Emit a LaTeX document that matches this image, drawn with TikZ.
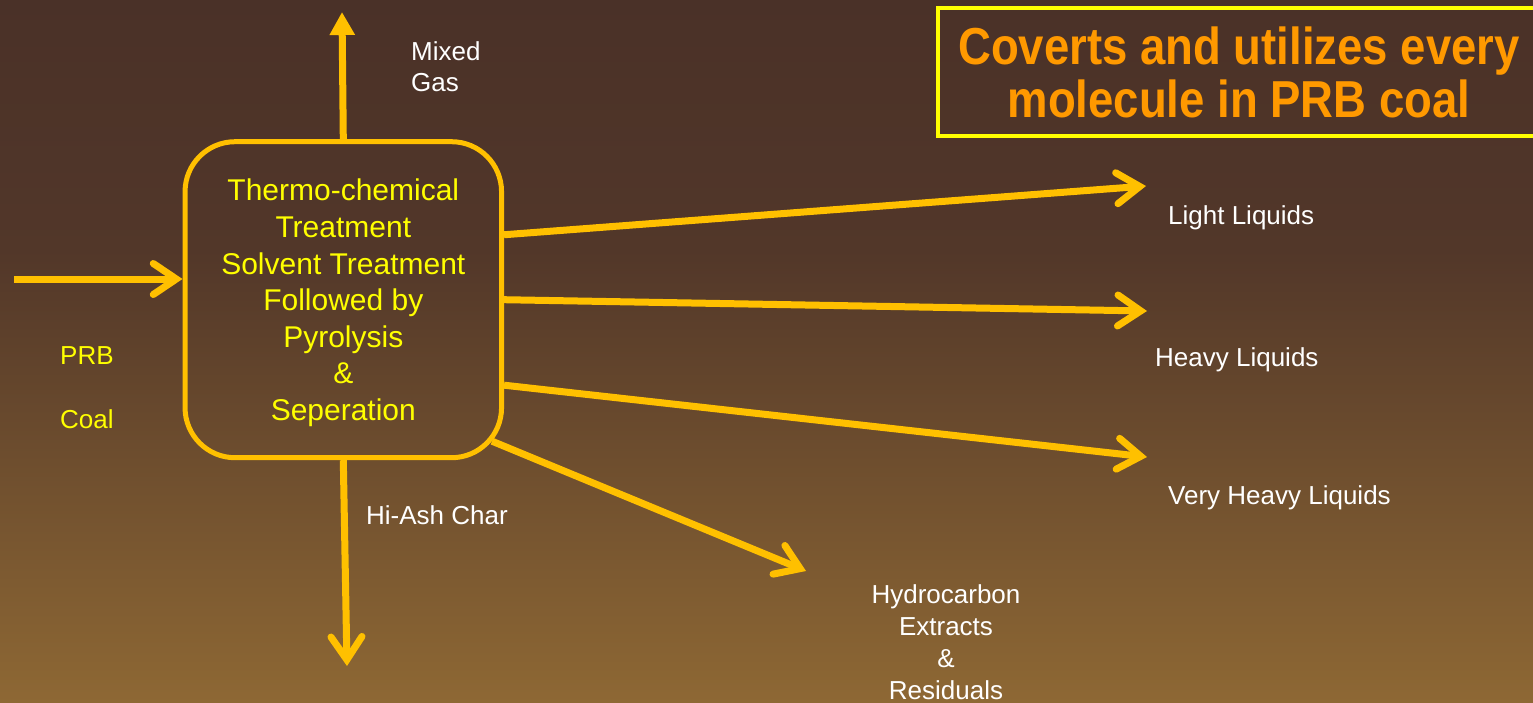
\documentclass[tikz,border=0pt]{standalone}
\usepackage{fontspec}
\setmainfont{Liberation Sans}
\newfontfamily\titlefont{Liberation Sans Bold}[FakeStretch=0.875]
\usetikzlibrary{arrows.meta,calc}
\definecolor{arrowc}{HTML}{FFC000}
\definecolor{yellowc}{HTML}{FFFF00}
\definecolor{titleorange}{HTML}{FF9900}
\definecolor{bgtop}{HTML}{4A3128}
\definecolor{bgmid}{HTML}{523729}
\definecolor{bgbot}{HTML}{8E6834}
\tikzset{
  flow/.style={draw=arrowc, line width=7pt,
    -{Straight Barb[length=23pt,width=31pt,line cap=round,line join=miter]}},
  gasflow/.style={draw=arrowc, line width=7pt, -{Triangle[length=23pt,width=24pt]}},
  wlabel/.style={text=white, font=\fontsize{26}{31.5}\selectfont, inner sep=0pt},
  ylabel/.style={text=yellowc, font=\fontsize{26}{31.5}\selectfont, inner sep=0pt},
  procbox/.style={draw=arrowc, line width=5pt, rounded corners=50pt,
    minimum width=316.5pt, minimum height=316pt, inner sep=0pt},
  proctext/.style={text=yellowc, font=\fontsize{30}{36.6}\selectfont, align=center, inner sep=0pt},
  titlebox/.style={draw=yellowc, line width=4.5pt, minimum width=602pt, minimum height=128pt,
    inner sep=0pt, text=titleorange, align=center, font=\titlefont\fontsize{52}{53}\selectfont}
}
\begin{document}
\begin{tikzpicture}[x=1pt,y=-1pt]
\useasboundingbox (0,0) rectangle (1533,702);
\clip (0,0) rectangle (1533,702);
\shade[top color=bgtop, bottom color=bgmid] (0,-1) rectangle (1533,251);
\shade[top color=bgmid, bottom color=bgbot] (0,250) rectangle (1533,703);

% title
\node[titlebox] (title) at (1239,72) {Coverts and utilizes every\\molecule in PRB coal};

% process box
\node[procbox] (proc) at (343.3,299.7) {};
\node[proctext] (proctxt) at (343.3,303) {Thermo-chemical\\Treatment\\Solvent Treatment\\Followed by\\Pyrolysis\\\&\\Seperation};

% end coordinates
\coordinate (feed) at (14,279);
\coordinate (gas) at (342,12);
\coordinate (char) at (347,666);
\coordinate (light) at (1146,186);
\coordinate (heavy) at (1147,311);
\coordinate (vheavy) at (1147,457);
\coordinate (hydro) at (806,571);

% connectors
\draw[flow] (feed) -- (proc.west |- feed);
\draw[gasflow] (proc.north) -- (gas);
\draw[flow] (proc.south) -- (char);
\draw[flow] (proc.22.8) -- (light);
\draw[flow] (proc.east) -- (heavy);
\draw[flow] (proc.-28) -- (vheavy);
\draw[flow] ($(proc.south east)+(-12,-19)$) -- (hydro);

% labels
\node[wlabel, anchor=north west, align=left] (gaslbl) at (411,41) {Mixed\\Gas};
\node[wlabel, anchor=base west] (charlbl) at (366,524) {Hi-Ash Char};
\node[wlabel, anchor=base west] (lightlbl) at (1168,224) {Light Liquids};
\node[wlabel, anchor=base west] (heavylbl) at (1155,366) {Heavy Liquids};
\node[wlabel, anchor=base west] (vheavylbl) at (1168,504) {Very Heavy Liquids};
\node[wlabel, anchor=north, align=center, font=\fontsize{26}{32}\selectfont] (hydrolbl) at (946,584) {Hydrocarbon\\Extracts\\\&\\Residuals};
\node[ylabel, anchor=base west] (prb) at (60,364) {PRB};
\node[ylabel, anchor=base west] (coal) at (60,428) {Coal};
\end{tikzpicture}
\end{document}
